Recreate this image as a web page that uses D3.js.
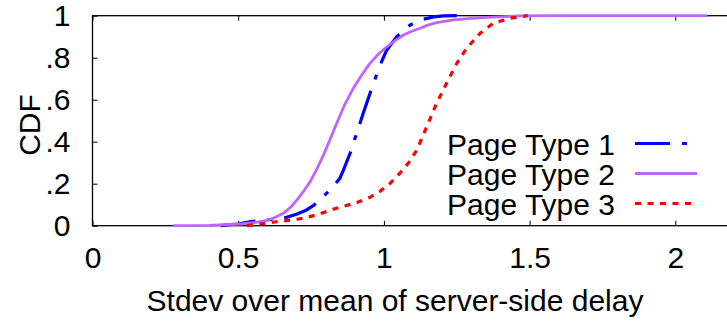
<!DOCTYPE html>
<html>
<head>
<meta charset="utf-8">
<script src="https://cdn.jsdelivr.net/npm/d3@7"></script>
<style>
  html, body { margin: 0; padding: 0; background: #fff; }
  svg { display: block; }
  text { font-family: "Liberation Sans", Arial, sans-serif; fill: #000; }
</style>
</head>
<body>
<svg id="chart" width="727" height="322"></svg>
<script>
// CDF of (stdev / mean) of server-side delay, per page type
const seriesNames = ["Page Type 1", "Page Type 2", "Page Type 3"];

const type1X = [0.44, 0.50, 0.54, 0.60, 0.655, 0.70, 0.735, 0.76, 0.781, 0.80, 0.821, 0.849, 0.861, 0.884, 0.895, 0.929, 0.964, 0.987, 1.01, 1.044, 1.09, 1.135, 1.17, 1.204, 1.25];
const type1Y = [0.0, 0.008, 0.019, 0.027, 0.035, 0.055, 0.075, 0.098, 0.124, 0.15, 0.178, 0.226, 0.265, 0.345, 0.392, 0.535, 0.678, 0.765, 0.837, 0.9, 0.956, 0.983, 0.994, 0.999, 1.0];

const type2X = [0.275, 0.40, 0.506, 0.55, 0.586, 0.62, 0.655, 0.68, 0.701, 0.725, 0.747, 0.77, 0.792, 0.815, 0.838, 0.865, 0.895, 0.925, 0.952, 0.98, 1.01, 1.04, 1.067, 1.095, 1.124, 1.15, 1.181, 1.238, 1.30, 1.353, 1.467, 1.60, 1.80, 2.11];
const type2Y = [0.0, 0.002, 0.008, 0.014, 0.022, 0.035, 0.059, 0.088, 0.122, 0.165, 0.21, 0.27, 0.335, 0.41, 0.488, 0.575, 0.654, 0.72, 0.773, 0.815, 0.852, 0.882, 0.908, 0.926, 0.94, 0.955, 0.967, 0.98, 0.987, 0.992, 0.999, 1.0, 1.0, 1.0];

const type3X = [0.53, 0.575, 0.632, 0.68, 0.723, 0.77, 0.815, 0.86, 0.907, 0.95, 0.987, 1.02, 1.055, 1.085, 1.113, 1.147, 1.181, 1.215, 1.25, 1.284, 1.33, 1.375, 1.433, 1.494];
const type3Y = [0.0, 0.008, 0.019, 0.027, 0.035, 0.052, 0.074, 0.092, 0.11, 0.134, 0.164, 0.2, 0.25, 0.3, 0.36, 0.471, 0.583, 0.678, 0.773, 0.845, 0.916, 0.964, 0.988, 1.0];

const xTicks = [0, 0.5, 1, 1.5, 2];
const xTickLabels = ["0", "0.5", "1", "1.5", "2"];
const yTicks = [0, 0.2, 0.4, 0.6, 0.8, 1];
const yTickLabels = ["0", ".2", ".4", ".6", ".8", "1"];

const seriesColors = ["#0000ff", "#c064ff", "#ff0000"];
const seriesDash = ["35,12,5,12", null, "6,6.5"];
const seriesWidth = [3.2, 2.8, 3.2];

const series = [
  d3.zip(type1X, type1Y),
  d3.zip(type2X, type2Y),
  d3.zip(type3X, type3Y)
];

const fontSize = 30;
const svg = d3.select("#chart");
const plotLeft = 92.5, plotRight = 733.6, plotTop = 15.7, plotBottom = 225.7;

const x = d3.scaleLinear().domain([0, 2.2]).range([plotLeft, plotRight]);
const y = d3.scaleLinear().domain([0, 1]).range([plotBottom, plotTop]);

// frame
svg.append("rect")
  .attr("x", plotLeft).attr("y", plotTop)
  .attr("width", plotRight - plotLeft).attr("height", plotBottom - plotTop)
  .attr("fill", "none").attr("stroke", "#000").attr("stroke-width", 1.3);

// bottom axis, ticks point inward
const xAxis = d3.axisBottom(x).tickValues(xTicks)
  .tickFormat((d, i) => xTickLabels[i]).tickSizeInner(-5).tickSizeOuter(0).tickPadding(21);
const gx = svg.append("g").attr("transform", `translate(0,${plotBottom})`).call(xAxis);
gx.select(".domain").remove();
gx.selectAll("line").attr("stroke", "#000").attr("stroke-width", 1);
gx.selectAll("text").attr("font-size", fontSize).attr("font-family", "Liberation Sans, Arial, sans-serif")
  .attr("fill", "#000").attr("dy", "0.71em");

// mirrored ticks on the top edge
const xAxisTop = d3.axisTop(x).tickValues(xTicks).tickFormat("").tickSizeInner(-5).tickSizeOuter(0);
const gxt = svg.append("g").attr("transform", `translate(0,${plotTop})`).call(xAxisTop);
gxt.select(".domain").remove();
gxt.selectAll("line").attr("stroke", "#000").attr("stroke-width", 1);

// left axis
const yAxis = d3.axisLeft(y).tickValues(yTicks)
  .tickFormat((d, i) => yTickLabels[i]).tickSizeInner(-5).tickSizeOuter(0).tickPadding(22);
const gy = svg.append("g").attr("transform", `translate(${plotLeft},0)`).call(yAxis);
gy.select(".domain").remove();
gy.selectAll("line").attr("stroke", "#000").attr("stroke-width", 1);
gy.selectAll("text").attr("font-size", fontSize).attr("font-family", "Liberation Sans, Arial, sans-serif")
  .attr("fill", "#000");

// axis titles
svg.append("text")
  .attr("x", 395).attr("y", 311)
  .attr("text-anchor", "middle").attr("font-size", fontSize)
  .text("Stdev over mean of server-side delay");
svg.append("text")
  .attr("transform", "translate(40,125) rotate(-90)")
  .attr("text-anchor", "middle").attr("font-size", fontSize)
  .text("CDF");

// curves
const line = d3.line().x(d => x(d[0])).y(d => y(d[1]));
series.forEach((s, i) => {
  svg.append("path")
    .datum(s)
    .attr("d", line)
    .attr("fill", "none")
    .attr("stroke", seriesColors[i])
    .attr("stroke-width", seriesWidth[i])
    .attr("stroke-dasharray", seriesDash[i])
    .attr("stroke-linejoin", "round");
});

// legend
const legendTextX = 615, sampleX0 = 635, sampleX1 = 697;
const rowBase = [154.5, 184.5, 214.5];
seriesNames.forEach((name, i) => {
  svg.append("text")
    .attr("x", legendTextX).attr("y", rowBase[i])
    .attr("text-anchor", "end").attr("font-size", fontSize)
    .text(name);
  svg.append("line")
    .attr("x1", sampleX0).attr("x2", sampleX1)
    .attr("y1", rowBase[i] - 11).attr("y2", rowBase[i] - 11)
    .attr("stroke", seriesColors[i])
    .attr("stroke-width", seriesWidth[i])
    .attr("stroke-dasharray", seriesDash[i]);
});
</script>
</body>
</html>
